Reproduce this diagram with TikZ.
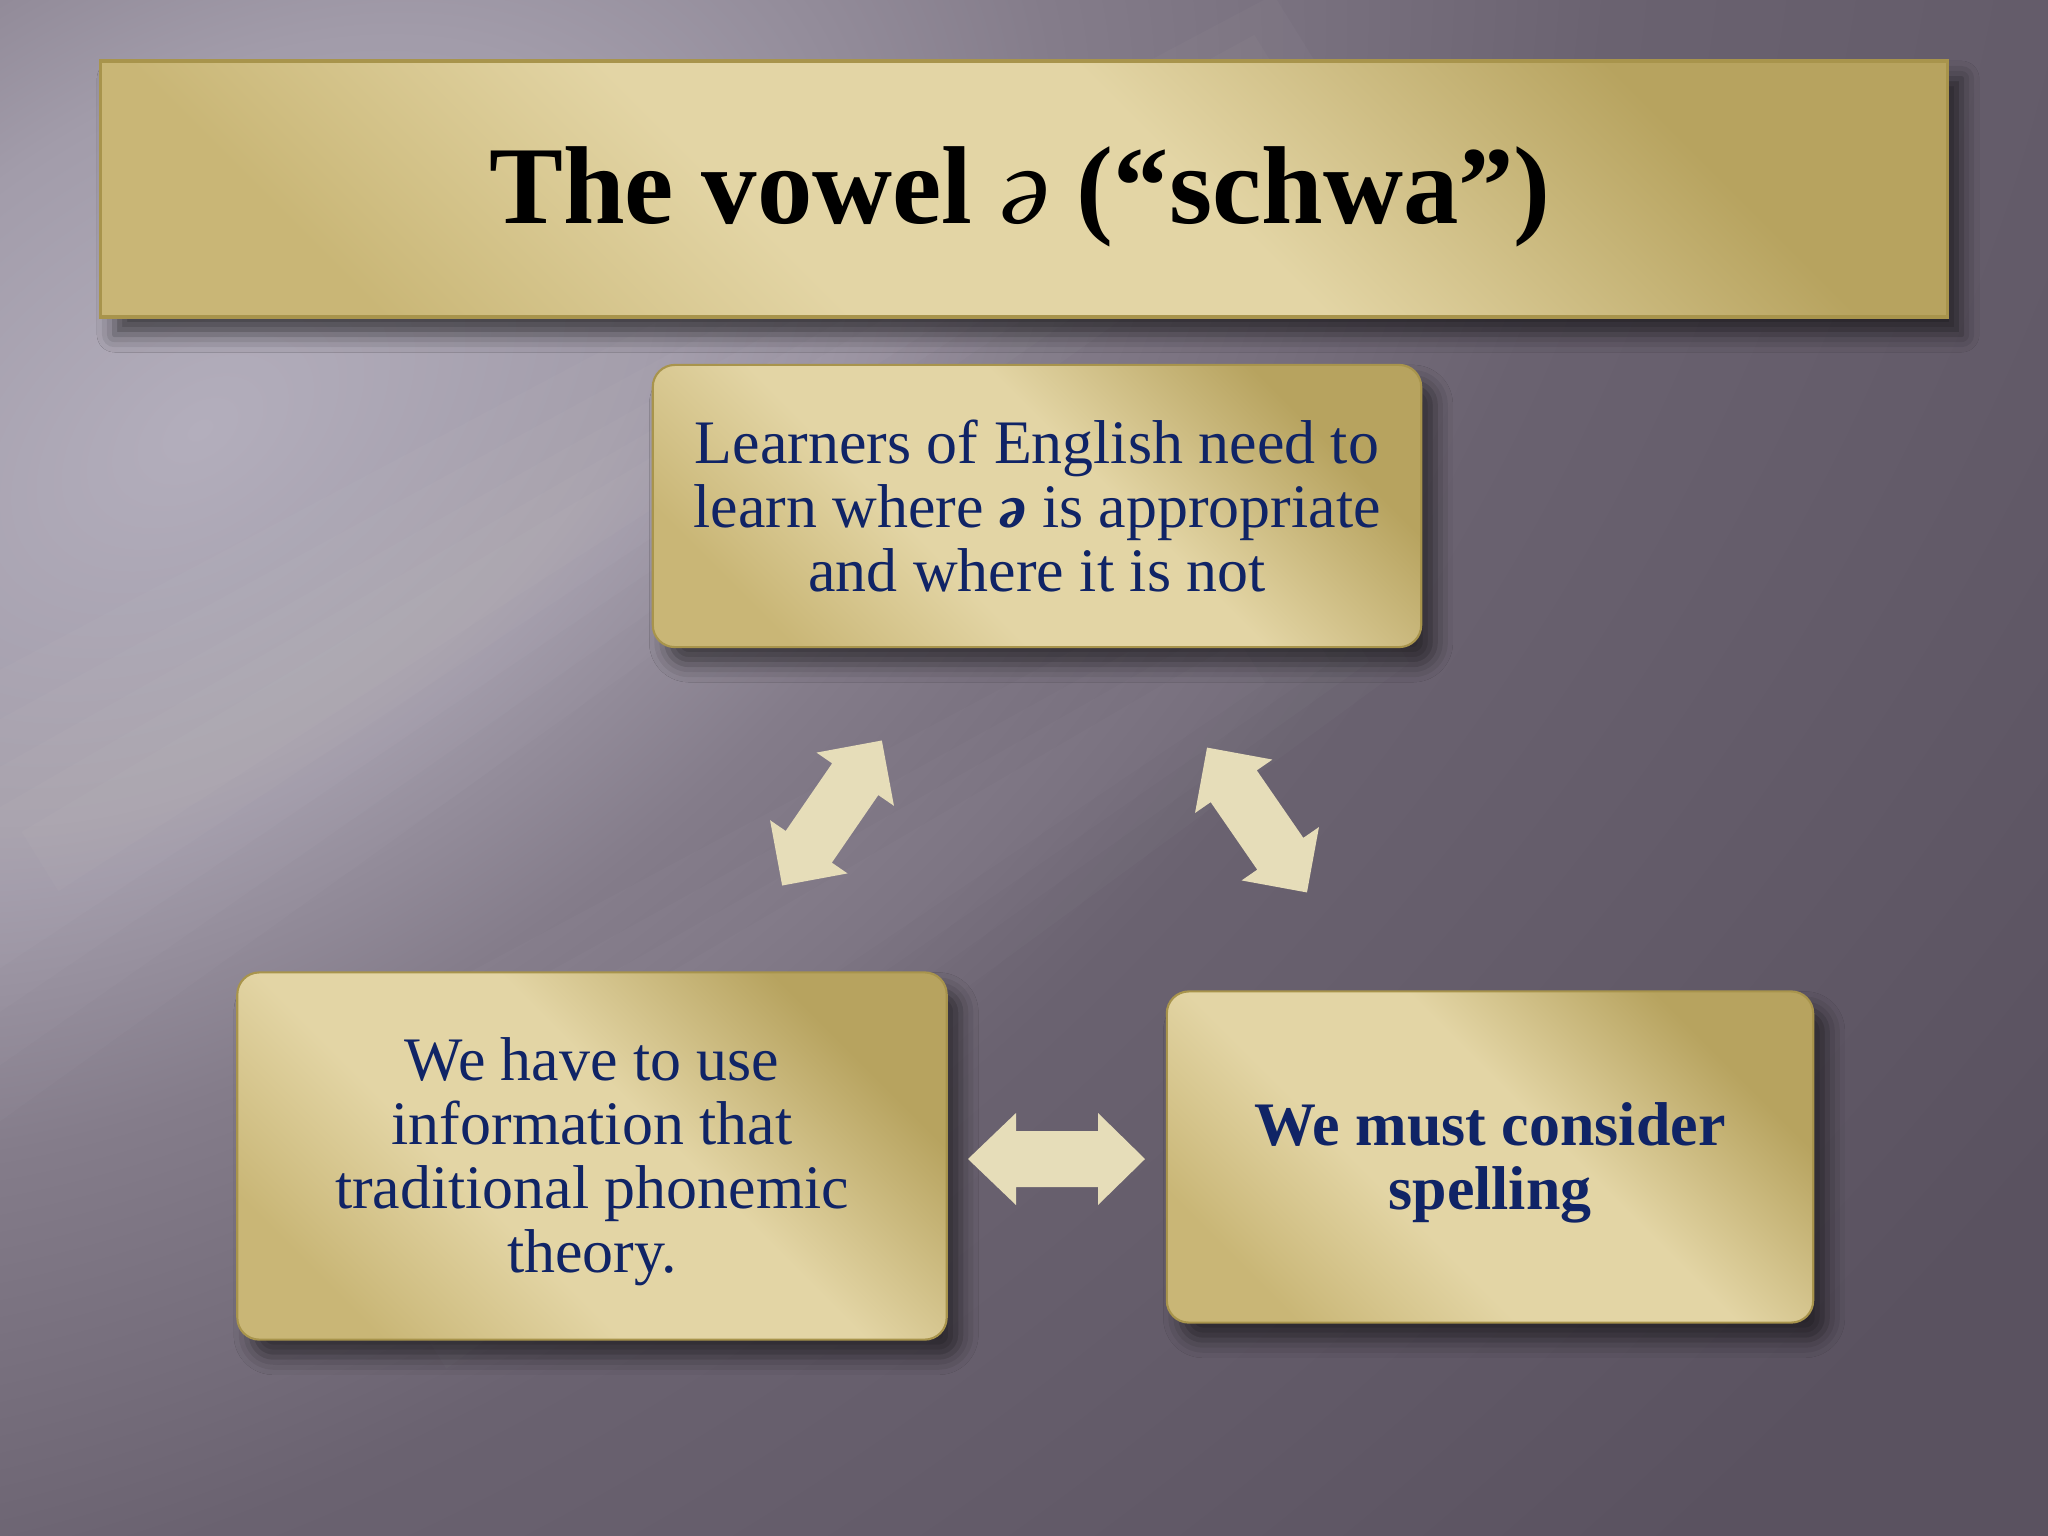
\documentclass[tikz,border=0pt]{standalone}
\usepackage{fontspec}
\setmainfont{Liberation Serif}
\usetikzlibrary{shadows.blur}
\definecolor{navy}{RGB}{16,36,102}
\definecolor{golddark}{HTML}{B7A35F}
\definecolor{goldlight}{HTML}{E3D5A5}
\definecolor{goldmed}{HTML}{C9B676}
\definecolor{goldedge}{HTML}{A8944C}
\definecolor{cream}{HTML}{E6DDB9}
\definecolor{bga}{HTML}{B3AEBC}
\definecolor{bgb}{HTML}{A29CAA}
\definecolor{bgc}{HTML}{847C8A}
\definecolor{bgd}{HTML}{6A6270}
\definecolor{bge}{HTML}{5A5260}
\pgfdeclareradialshading{bgrad}{\pgfpoint{0bp}{0bp}}{color(0bp)=(bga); color(90bp)=(bgb); color(170bp)=(bgc); color(280bp)=(bgd); color(510bp)=(bge); color(700bp)=(bge)}
\pgfdeclarehorizontalshading{goldsh}{100bp}{color(0bp)=(golddark); color(26bp)=(golddark); color(44bp)=(goldlight); color(60bp)=(goldlight); color(76bp)=(goldmed); color(100bp)=(goldmed)}
\begin{document}
\begin{tikzpicture}[x=0.01cm,y=-0.01cm,
  goldbox/.style={draw=goldedge, line width=0.6pt, shade, shading=goldsh, shading angle=225,
    rounded corners=0.22cm, blur shadow={shadow xshift=4pt, shadow yshift=-5pt, shadow blur radius=5pt, shadow opacity=55},
    text=navy, align=center, inner sep=0pt, font=\fontsize{17.6}{18.2}\selectfont},
  titlebox/.style={draw=goldedge, line width=0.9pt, shade, shading=goldsh, shading angle=225,
    blur shadow={shadow xshift=4pt, shadow yshift=-5pt, shadow blur radius=5pt, shadow opacity=60}, inner sep=0pt},
  titlefont/.style={font=\fontsize{31.5}{36}\bfseries\selectfont, inner sep=0pt},
  arrowfill/.style={fill=cream}]
\useasboundingbox (0,0) rectangle (2048,1536);
% background
\node[inner sep=0pt, rotate=35, xscale=1.6] (bg) at (200,430) {\pgfuseshading{bgrad}};
% soft light beams
\foreach \w/\a/\b in {220/-0.1/0.95,160/0/0.93,110/0.05/0.9,70/0.1/0.85,35/0.15/0.78}{
  \fill[white, opacity=0.022]
    ({-200+\a*1600-0.526*\w},{1010-\a*990-0.85*\w}) -- ({-200+\b*1600-0.526*\w*0.4},{1010-\b*990-0.85*\w*0.4}) --
    ({-200+\b*1600+0.526*\w*0.4},{1010-\b*990+0.85*\w*0.4}) -- ({-200+\a*1600+0.526*\w},{1010-\a*990+0.85*\w}) -- cycle;
}
\foreach \w/\a/\b in {170/0.04/0.76,125/0.08/0.74,85/0.15/0.72,50/0.22/0.68}{
  \fill[white, opacity=0.02]
    ({300+\a*1400-0.532*\w},{1260-\a*880-0.846*\w}) -- ({300+\b*1400-0.532*\w*0.5},{1260-\b*880-0.846*\w*0.5}) --
    ({300+\b*1400+0.532*\w*0.5},{1260-\b*880+0.846*\w*0.5}) -- ({300+\a*1400+0.532*\w},{1260-\a*880+0.846*\w}) -- cycle;
}
% title
\node[titlebox, minimum width=18.46cm, minimum height=2.56cm] (title) at (1024,189) {};
\node[titlefont, text=black] (ttext) at (1020,197) {The vowel {\mdseries\itshape ə} (“schwa”)};
% boxes
\node[goldbox, minimum width=7.68cm, minimum height=2.82cm] (top) at (1037,506)
  {Learners of English need to\\learn where \textbf{\textit{ə}} is appropriate\\and where it is not};
\node[goldbox, minimum width=7.09cm, minimum height=3.67cm] (left) at (592,1156)
  {\rule{0pt}{15.7pt}We have to use\\information that\\traditional phonemic\\theory.};
\node[goldbox, minimum width=6.46cm, minimum height=3.31cm] (right) at (1490,1157)
  {\bfseries\rule{0pt}{15.8pt}We must consider\\\bfseries spelling};
% arrows
\begin{scope}[shift={(832,813)}, rotate=55.5]
  \fill[arrowfill] (-88,0) -- (-41,47) -- (-41,28) -- (41,28) -- (41,47) -- (88,0) -- (41,-47) -- (41,-28) -- (-41,-28) -- (-41,-47) -- cycle;
\end{scope}
\begin{scope}[shift={(1257,820)}, rotate=124.6]
  \fill[arrowfill] (-88,0) -- (-41,47) -- (-41,28) -- (41,28) -- (41,47) -- (88,0) -- (41,-47) -- (41,-28) -- (-41,-28) -- (-41,-47) -- cycle;
\end{scope}
\begin{scope}[shift={(1056,1159)}]
  \fill[arrowfill] (-88,0) -- (-40,46) -- (-40,28) -- (42,28) -- (42,46) -- (89,0) -- (42,-46) -- (42,-28) -- (-40,-28) -- (-40,-46) -- cycle;
\end{scope}
\end{tikzpicture}
\end{document}
